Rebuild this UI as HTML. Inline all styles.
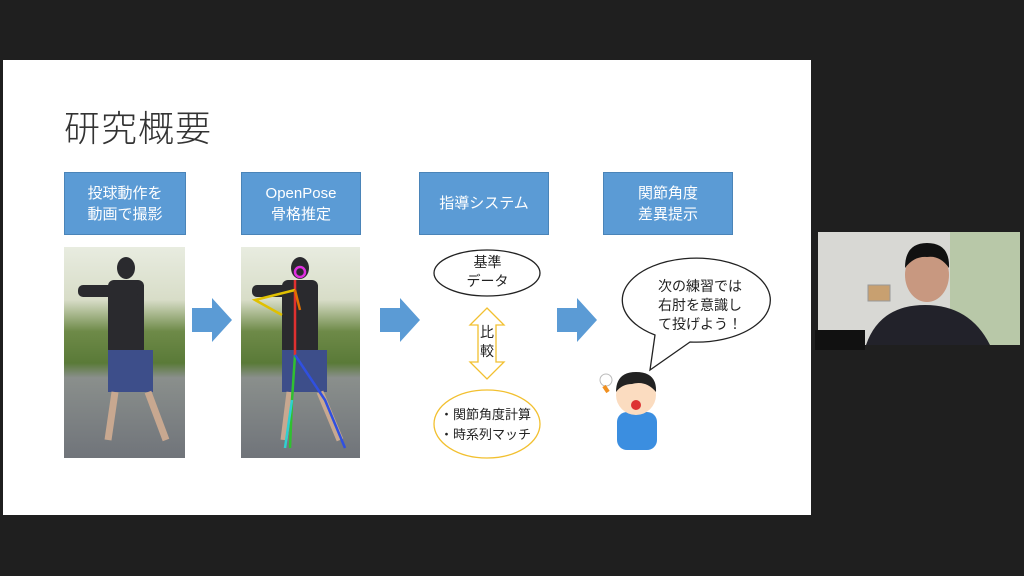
<!DOCTYPE html>
<html><head><meta charset="utf-8"><style>
body{margin:0;width:1024px;height:576px;background:#1f1f1f;position:relative;overflow:hidden;font-family:"Liberation Sans","Noto Sans CJK JP",sans-serif}
.a{position:absolute}
.slide{left:3px;top:60px;width:808px;height:455px;background:#fff}
.box{background:#5b9bd5;border:1px solid #4a84b8;color:#fff;font-size:15px;line-height:21px;text-align:center;display:flex;align-items:center;justify-content:center;box-sizing:border-box}
.photo{background:linear-gradient(#e8ece0 0%,#d8ddc8 25%,#6e8a48 40%,#5a7a38 55%,#8a8f8c 62%,#70747a 100%)}
</style></head><body>
<div class="a slide"></div>
<div class="a" style="left:64px;top:100px;font-size:36px;color:#333;font-weight:300;letter-spacing:1px">研究概要</div>
<div class="a box" style="left:64px;top:172px;width:122px;height:63px">投球動作を<br>動画で撮影</div>
<div class="a box" style="left:241px;top:172px;width:120px;height:63px">OpenPose<br>骨格推定</div>
<div class="a box" style="left:419px;top:172px;width:130px;height:63px">指導システム</div>
<div class="a box" style="left:603px;top:172px;width:130px;height:63px">関節角度<br>差異提示</div>

<div class="a photo" style="left:64px;top:247px;width:121px;height:211px"></div>
<div class="a photo" style="left:241px;top:247px;width:119px;height:211px"></div>
<svg class="a" style="left:0;top:0" width="1024" height="576">
 <!-- figures -->
 <g fill="#2a2a2e"><ellipse cx="126" cy="268" rx="9" ry="11"/><rect x="108" y="280" width="36" height="75" rx="6"/><rect x="78" y="285" width="60" height="12" rx="5"/></g>
 <rect x="108" y="350" width="45" height="42" fill="#3d4e8a"/>
 <path d="M115 392 L108 440 M148 392 L166 440" stroke="#c8a890" stroke-width="7"/>
 <g fill="#2a2a2e"><ellipse cx="300" cy="268" rx="9" ry="11"/><rect x="282" y="280" width="36" height="75" rx="6"/><rect x="252" y="285" width="60" height="12" rx="5"/></g>
 <rect x="282" y="350" width="45" height="42" fill="#3d4e8a"/>
 <path d="M290 392 L284 440 M320 392 L340 440" stroke="#c8a890" stroke-width="7"/>
 <g fill="none" stroke-width="2.5"><path d="M295 280 L295 355" stroke="#e03030"/><path d="M295 290 L255 300 L282 315" stroke="#e0c000"/><path d="M295 290 L300 310" stroke="#e07000"/><path d="M295 355 L292 400 L290 448" stroke="#30c030"/><path d="M295 355 L325 400 L345 448" stroke="#3050e0"/><path d="M292 400 L285 448" stroke="#30d0d0"/><circle cx="300" cy="272" r="5" stroke="#e030e0"/></g>
 <!-- arrows -->
 <g fill="#5b9bd5"><path d="M192 308 H212 V298 L232 320 L212 342 V332 H192Z"/><path d="M380 308 H400 V298 L420 320 L400 342 V332 H380Z"/><path d="M557 308 H577 V298 L597 320 L577 342 V332 H557Z"/></g>
 <ellipse cx="487" cy="273" rx="53" ry="23" fill="#fff" stroke="#222" stroke-width="1.3"/>
 <path d="M487 308 L504 325 H496 V362 H504 L487 379 L470 362 H478 V325 H470Z" fill="#fff" stroke="#f2c030" stroke-width="1.3"/>
 <ellipse cx="487" cy="424" rx="53" ry="34" fill="#fff" stroke="#f2c030" stroke-width="1.3"/>
 <path d="M655 335 A74 42 0 1 1 690 342 L650 370 Z" fill="#fff" stroke="#222" stroke-width="1.3"/>
 <!-- kid -->
 <rect x="617" y="412" width="40" height="38" rx="10" fill="#3b8ee0"/>
 <circle cx="636" cy="395" r="20" fill="#fbdcc0"/>
 <path d="M616 392 Q616 372 636 372 Q657 372 656 392 Q646 380 632 384 Q622 384 616 392Z" fill="#222"/>
 <ellipse cx="636" cy="405" rx="5" ry="5" fill="#d33"/>
 <circle cx="606" cy="380" r="6" fill="#fff" stroke="#bbb"/><path d="M604 386 L608 392" stroke="#f09020" stroke-width="4"/>
 <!-- webcam -->
 <rect x="818" y="232" width="202" height="113" fill="#d8d8d4"/>
 <rect x="950" y="232" width="70" height="113" fill="#b8c8a8"/>
 <rect x="868" y="285" width="22" height="16" fill="#c8a070" stroke="#999"/>
 <path d="M866 345 Q880 305 925 305 Q970 305 990 345Z" fill="#22222a"/>
 <ellipse cx="927" cy="275" rx="22" ry="27" fill="#c89880"/>
 <path d="M905 268 Q905 243 927 243 Q950 243 949 268 Q940 255 927 257 Q914 256 905 268Z" fill="#111"/>
 <rect x="815" y="330" width="50" height="20" fill="#111"/>
</svg>
<div class="a" style="left:434px;top:253px;width:107px;text-align:center;font-size:14px;line-height:19px;color:#222">基準<br>データ</div>
<div class="a" style="left:478px;top:323px;width:18px;text-align:center;font-size:14px;line-height:19px;color:#222">比<br>較</div>
<div class="a" style="left:440px;top:405px;font-size:13px;line-height:20px;color:#222">・関節角度計算<br>・時系列マッチ</div>
<div class="a" style="left:640px;top:277px;width:120px;text-align:center;font-size:14px;line-height:19px;color:#222">次の練習では<br>右肘を意識し<br>て投げよう！</div>
</body></html>
